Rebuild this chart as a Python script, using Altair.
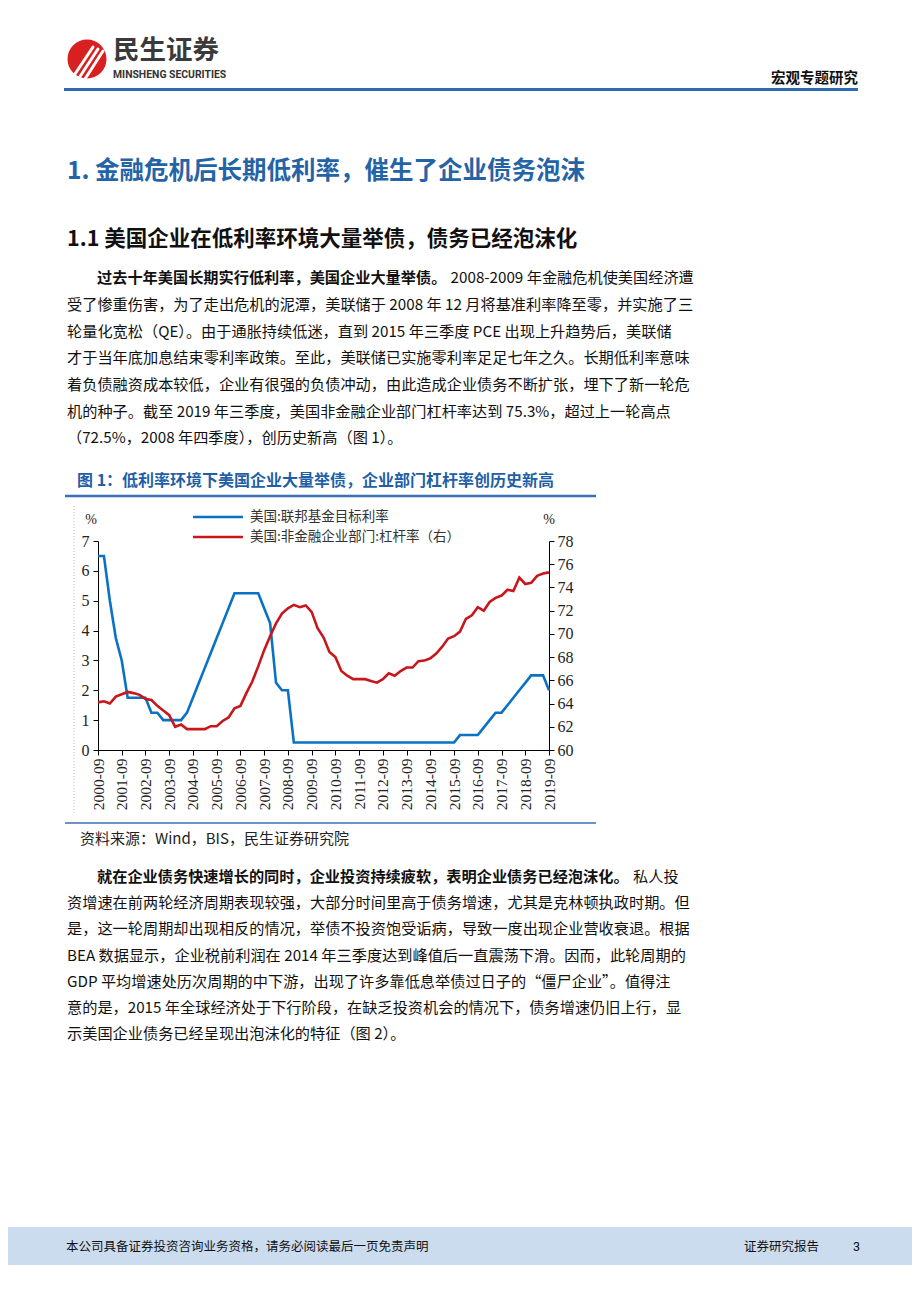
import altair as alt
import pandas as pd

# ---------------- data ----------------
x_tick_labels = ["2000-09", "2001-09", "2002-09", "2003-09", "2004-09", "2005-09", "2006-09",
                 "2007-09", "2008-09", "2009-09", "2010-09", "2011-09", "2012-09", "2013-09",
                 "2014-09", "2015-09", "2016-09", "2017-09", "2018-09", "2019-09"]

fed_rate = [6.5, 6.5, 5.0, 3.75, 3.0, 1.75, 1.75, 1.75, 1.75, 1.25, 1.25, 1.0, 1.0, 1.0, 1.0,
            1.25, 1.75, 2.25, 2.75, 3.25, 3.75, 4.25, 4.75, 5.25, 5.25, 5.25, 5.25, 5.25, 4.75,
            4.25, 2.25, 2.0, 2.0,
            0.25, 0.25, 0.25, 0.25, 0.25, 0.25, 0.25, 0.25, 0.25, 0.25, 0.25, 0.25, 0.25, 0.25,
            0.25, 0.25, 0.25, 0.25, 0.25, 0.25, 0.25, 0.25, 0.25, 0.25, 0.25, 0.25, 0.25, 0.25,
            0.5, 0.5, 0.5, 0.5, 0.75, 1.0, 1.25, 1.25, 1.5, 1.75, 2.0, 2.25, 2.5, 2.5, 2.5, 2.0]

leverage = [64.1, 64.2, 64.0, 64.6, 64.8, 65.0, 64.9, 64.75, 64.4, 64.3, 63.8, 63.4, 63.0, 62.0,
            62.2, 61.8, 61.8, 61.8, 61.8, 62.05, 62.05, 62.5, 62.8, 63.6, 63.8, 64.9, 65.9, 67.2,
            68.6, 69.8, 70.9, 71.75, 72.2, 72.5, 72.3, 72.45, 71.9, 70.5, 69.7, 68.45, 68.0, 66.8,
            66.4, 66.1, 66.1, 66.1, 65.95, 65.8, 66.1, 66.6, 66.4, 66.8, 67.1, 67.1, 67.65, 67.7,
            67.9, 68.3, 68.9, 69.6, 69.8, 70.2, 71.3, 71.6, 72.3, 72.0, 72.75, 73.1, 73.3, 73.8,
            73.7, 74.85, 74.3, 74.4, 75.0, 75.2, 75.3]

series_names = ["美国:联邦基金目标利率", "美国:非金融企业部门:杠杆率（右）"]

df = pd.DataFrame({"q": list(range(len(fed_rate))), "fed": fed_rate, "lev": leverage})

# ---------------- page texts ----------------
header_brand = "民生证券"
header_brand_en = "MINSHENG SECURITIES"
header_right = "宏观专题研究"
title1 = "1. 金融危机后长期低利率，催生了企业债务泡沫"
title11 = "1.1  美国企业在低利率环境大量举债，债务已经泡沫化"
p1_bold = "过去十年美国长期实行低利率，美国企业大量举债。"
p1_first = "2008-2009 年金融危机使美国经济遭"
p1_lines = [
    "受了惨重伤害，为了走出危机的泥潭，美联储于 2008 年 12 月将基准利率降至零，并实施了三",
    "轮量化宽松（QE）。由于通胀持续低迷，直到 2015 年三季度 PCE 出现上升趋势后，美联储",
    "才于当年底加息结束零利率政策。至此，美联储已实施零利率足足七年之久。长期低利率意味",
    "着负债融资成本较低，企业有很强的负债冲动，由此造成企业债务不断扩张，埋下了新一轮危",
    "机的种子。截至 2019 年三季度，美国非金融企业部门杠杆率达到 75.3%，超过上一轮高点",
    "（72.5%，2008 年四季度），创历史新高（图 1）。",
]
fig_title = "图 1：低利率环境下美国企业大量举债，企业部门杠杆率创历史新高"
source = "资料来源：Wind，BIS，民生证券研究院"
p2_bold = "就在企业债务快速增长的同时，企业投资持续疲软，表明企业债务已经泡沫化。"
p2_first = "私人投"
p2_lines = [
    "资增速在前两轮经济周期表现较强，大部分时间里高于债务增速，尤其是克林顿执政时期。但",
    "是，这一轮周期却出现相反的情况，举债不投资饱受诟病，导致一度出现企业营收衰退。根据",
    "BEA 数据显示，企业税前利润在 2014 年三季度达到峰值后一直震荡下滑。因而，此轮周期的",
    "GDP 平均增速处历次周期的中下游，出现了许多靠低息举债过日子的“僵尸企业”。值得注",
    "意的是，2015 年全球经济处于下行阶段，在缺乏投资机会的情况下，债务增速仍旧上行，显",
    "示美国企业债务已经呈现出泡沫化的特征（图 2）。",
]
footer_left = "本公司具备证券投资咨询业务资格，请务必阅读最后一页免责声明"
footer_right = "证券研究报告"
page_no = "3"

# ---------------- layout helpers ----------------
OX, OY = 98, 541          # page position of the plot origin
CJK = "Noto Sans CJK SC"
SERIF = "Liberation Serif"
BLUE = "#0A72C4"
RED = "#C8161D"
dummy = alt.Data(values=[{"k": 0}])


def txt(s, px, py, size, color="#111111", weight="normal", font=CJK, align="left"):
    return alt.Chart(dummy).mark_text(
        text=s, fontSize=size, color=color, fontWeight=weight, font=font,
        align=align, baseline="middle"
    ).encode(x=alt.value(px - OX), y=alt.value(py - OY))


def hrule(x1, x2, py, color, width, dash=None):
    kw = dict(color=color, strokeWidth=width)
    if dash:
        kw["strokeDash"] = dash
    return alt.Chart(dummy).mark_rule(**kw).encode(
        x=alt.value(x1 - OX), x2=alt.value(x2 - OX), y=alt.value(py - OY), y2=alt.value(py - OY))


def seg(x1, y1, x2, y2, color, width):
    return alt.Chart(dummy).mark_rule(color=color, strokeWidth=width, strokeCap="round").encode(
        x=alt.value(x1 - OX), x2=alt.value(x2 - OX), y=alt.value(y1 - OY), y2=alt.value(y2 - OY))


def rect(x1, x2, y1, y2, color):
    return alt.Chart(dummy).mark_rect(color=color).encode(
        x=alt.value(x1 - OX), x2=alt.value(x2 - OX), y=alt.value(y1 - OY), y2=alt.value(y2 - OY))


layers = []

# footer band
layers.append(rect(8, 912, 1227, 1265, "#CCDCEF"))

# header logo
layers.append(alt.Chart(dummy).mark_circle(size=1520, color="#D7201F", opacity=1).encode(
    x=alt.value(87 - OX), y=alt.value(59 - OY)))
for k in range(3):
    layers.append(seg(73 + 6 * k, 77 + k, 93 + 5 * k, 47 + 2 * k, "white", 3))
layers.append(txt(header_brand, 113, 51, 26.5, "#3A3A3A", "bold"))
layers.append(txt(header_brand_en, 113, 74.5, 10.4, "#333333", "bold", "Roboto"))
layers.append(txt(header_right, 858, 79, 14.5, "#111111", "bold", align="right"))
layers.append(hrule(64, 858, 89.5, "#2F6BB3", 3))

# headings
layers.append(txt(title1, 67, 172, 24.5, "#2464A6", "bold"))
layers.append(txt(title11, 67, 240, 21.5, "#111111", "bold"))

# paragraph 1
BODY = 15.2
p1_y = [278, 305, 332, 358, 385, 412, 438]
layers.append(txt(p1_bold, 97, p1_y[0], BODY, "#111111", "bold"))
layers.append(txt(p1_first, 97 + 23 * BODY + 4, p1_y[0], BODY))
for s, y in zip(p1_lines, p1_y[1:]):
    layers.append(txt(s, 67, y, BODY))

# figure title + rules
layers.append(txt(fig_title, 77, 481, 16, "#1F5FA8", "bold"))
layers.append(hrule(65, 596, 496, "#3A6FB5", 2.5))
layers.append(hrule(65, 596, 823, "#3A6FB5", 1.5))
layers.append(alt.Chart(dummy).mark_rule(color="#BBBBBB", strokeWidth=1, strokeDash=[1, 2]).encode(
    x=alt.value(74 - OX), x2=alt.value(74 - OX), y=alt.value(506 - OY), y2=alt.value(815 - OY)))

# legend & units
layers.append(hrule(193, 243, 517, BLUE, 2.6))
layers.append(hrule(193, 243, 537, RED, 2.6))
layers.append(txt(series_names[0], 250, 517, 13.5, "#333333"))
layers.append(txt(series_names[1], 250, 537, 13.5, "#333333"))
layers.append(txt("%", 91, 520, 14, "#222222", font=SERIF, align="center"))
layers.append(txt("%", 549, 520, 14, "#222222", font=SERIF, align="center"))

# source
layers.append(txt(source, 80, 839, 15, "#222222"))

# paragraph 2
p2_y = [877, 903, 929, 956, 982, 1008, 1034]
layers.append(txt(p2_bold, 97, p2_y[0], BODY, "#111111", "bold"))
layers.append(txt(p2_first, 97 + 35 * BODY + 4, p2_y[0], BODY))
for s, y in zip(p2_lines, p2_y[1:]):
    layers.append(txt(s, 67, y, BODY))

# footer texts
layers.append(txt(footer_left, 66, 1247, 12.5, "#111111"))
layers.append(txt(footer_right, 744, 1247, 12.5, "#111111"))
layers.append(txt(page_no, 853, 1247, 12.5, "#111111", font="Roboto"))

# ---------------- chart lines ----------------
label_expr = "[" + ",".join("'" + s + "'" for s in x_tick_labels) + "][round(datum.value/4)]"

x_enc = alt.X("q:Q", scale=alt.Scale(domain=[0, 76], nice=False, zero=False),
              axis=alt.Axis(values=list(range(0, 77, 4)), labelExpr=label_expr, labelAngle=270,
                            labelAlign="right", labelBaseline="middle", labelFont=SERIF,
                            labelFontSize=15.5, labelColor="#222222", tickSize=5,
                            tickColor="black", domainColor="black", grid=False, title=None,
                            labelPadding=3, labelOverlap=False))

blue_line = alt.Chart(df).mark_line(color=BLUE, strokeWidth=2.6).encode(
    x=x_enc,
    y=alt.Y("fed:Q", scale=alt.Scale(domain=[0, 7], nice=False),
            axis=alt.Axis(values=list(range(0, 8)), labelFont=SERIF, labelFontSize=16,
                          labelColor="#222222", tickSize=5, tickColor="black",
                          domainColor="black", grid=False, title=None, labelPadding=4)))

red_line = alt.Chart(df).mark_line(color=RED, strokeWidth=2.6).encode(
    x=x_enc,
    y=alt.Y("lev:Q", scale=alt.Scale(domain=[60, 78], nice=False, zero=False),
            axis=alt.Axis(orient="right", values=list(range(60, 79, 2)), labelFont=SERIF,
                          labelFontSize=16, labelColor="#222222", tickSize=5,
                          tickColor="black", domainColor="black", grid=False, title=None,
                          labelPadding=3)))

lines = alt.layer(blue_line, red_line).resolve_scale(y="independent")

chart = alt.layer(lines, *layers).properties(
    width=451, height=209,
    autosize=alt.AutoSizeParams(type="none"),
    padding={"left": 90, "top": 533, "right": 363, "bottom": 538},
    background="white",
).configure_view(stroke=None)

chart.save("out.html", embed_options={"renderer": "svg", "actions": False})
